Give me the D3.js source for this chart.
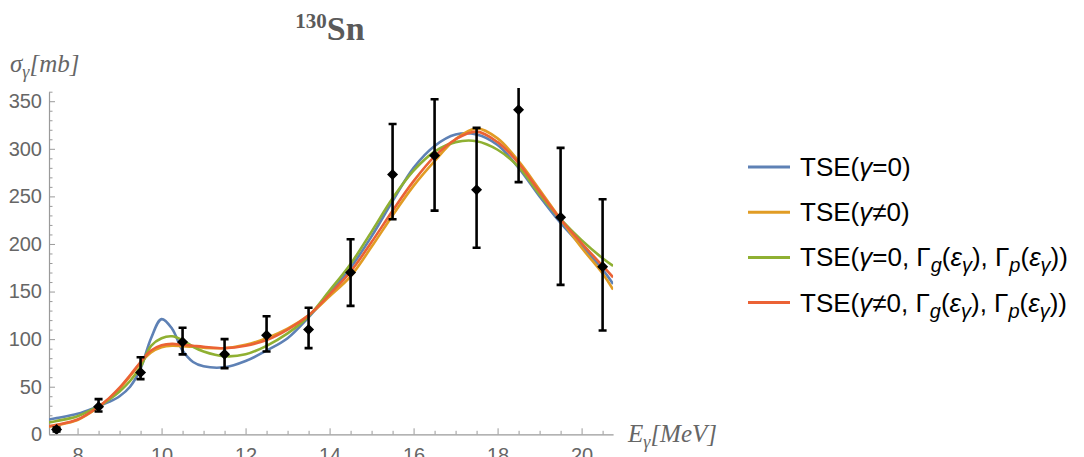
<!DOCTYPE html>
<html>
<head>
<meta charset="utf-8">
<script src="https://cdn.jsdelivr.net/npm/d3@7"></script>
<style>
  html, body { margin: 0; padding: 0; background: #fff; }
  svg { display: block; }
</style>
</head>
<body>
<svg id="chart" width="1084" height="457"></svg>
<script>
// Photon energy grid (MeV) on which the model curves are tabulated
const energyGrid = [7.32, 7.5, 8, 8.5, 8.75, 9, 9.25, 9.5, 9.75, 10, 10.25, 10.5, 10.75, 11, 11.5, 12, 12.5,
                    13, 13.5, 14, 14.5, 15, 15.5, 16, 16.5, 17, 17.5, 18, 18.5, 19, 19.5, 20, 20.5, 20.75];

// Photoabsorption cross sections (mb) for the four TSE variants
const tseGamma0 = [15.5, 17, 21.5, 29.5, 34, 40, 50, 69, 101, 121, 111, 88, 76, 71.5, 70.5, 77, 88,
                   101, 123, 148, 175, 208, 245, 280, 303, 315, 315, 304, 280, 250, 222, 198, 173, 158];
const tseGammaNe0 = [8, 9.5, 15, 28.5, 37.5, 48, 61, 75, 86, 91.5, 93, 92.5, 92, 91, 90.5, 94, 101,
                     111, 125, 145, 166, 197, 230, 261, 287, 310, 321.5, 311, 287, 257, 226, 196, 169, 152];
const tseGamma0Eps = [12.5, 14, 19, 29.5, 36.5, 45, 56, 71, 93, 101, 103, 99, 92, 87, 82, 84, 93,
                      106, 124, 151, 179, 213, 248, 277, 297, 307, 308, 299, 281, 252, 226, 204, 185, 177];
const tseGammaNe0Eps = [8.5, 10, 15.5, 29, 38, 49, 62, 76, 88, 93.5, 95, 94, 93, 92, 90.5, 93, 99,
                        110, 125, 147, 171, 202, 235, 266, 292, 310, 318, 307, 285, 255, 226, 201, 177, 165];

// Experimental points: energy, cross section, lower and upper error limits (mb)
const expEnergy = [7.5, 8.5, 9.5, 10.5, 11.5, 12.5, 13.5, 14.5, 15.5, 16.5, 17.5, 18.5, 19.5, 20.5];
const expSigma  = [5, 29, 65, 97, 84, 104, 110, 170, 273, 293, 257, 341, 228, 176];
const expLow    = [3, 24, 58, 84, 69.5, 87, 90.5, 135, 226, 235, 196, 265, 157, 109];
const expHigh   = [7, 37, 81, 112, 100, 124, 133, 205, 326, 352, 322, 417, 301, 247];

// Axis ticks
const xMajorTicks = [8, 10, 12, 14, 16, 18, 20];
const yMajorTicks = [0, 50, 100, 150, 200, 250, 300, 350];

const seriesColors = ["#5E81B5", "#E19C24", "#8FB032", "#EB6235"];

const svg = d3.select("#chart");

const x = d3.scaleLinear().domain([7.32, 20.75]).range([49, 613.1]);
const y = d3.scaleLinear().domain([0, 360]).range([434.3, 91.7]);

const axisColor = "#9a9a9a";
const labelColor = "#666";
const tickFont = "'Liberation Sans', Arial, sans-serif";
const serif = "'Liberation Serif', 'Times New Roman', serif";

// Clip regions for the plotted data
const defs = svg.append("defs");
defs.append("clipPath").attr("id", "plotClip")
  .append("rect")
  .attr("x", x(7.32) - 10).attr("y", y(364))
  .attr("width", x(20.75) - x(7.32) + 10).attr("height", y(0) - y(364));
defs.append("clipPath").attr("id", "curveClip")
  .append("rect")
  .attr("x", x(7.32)).attr("y", y(364))
  .attr("width", x(20.75) - x(7.32)).attr("height", y(0) - y(364) + 4);

// Axes (ticks pointing inward, no outer frame)
const xAxis = d3.axisTop(x)
  .tickValues(d3.range(7.5, 20.75, 0.5))
  .tickSize(0)
  .tickFormat("");
const xg = svg.append("g").attr("transform", `translate(0,${y(0)})`).call(xAxis);
xg.select(".domain").attr("stroke", axisColor).attr("stroke-width", 1.2);
xg.selectAll(".tick line")
  .attr("stroke", axisColor)
  .attr("y2", d => (xMajorTicks.includes(d) ? -6 : -3.5));

const xLabelAxis = d3.axisBottom(x).tickValues(xMajorTicks).tickSize(0).tickPadding(14);
const xl = svg.append("g").attr("transform", `translate(0,${y(0)})`).call(xLabelAxis);
xl.select(".domain").remove();
xl.selectAll(".tick text")
  .attr("fill", labelColor)
  .attr("font-family", tickFont)
  .attr("font-size", 20);

const yAxis = d3.axisRight(y)
  .tickValues(d3.range(0, 361, 10))
  .tickSize(0)
  .tickFormat("");
const yg = svg.append("g").attr("transform", `translate(${x(7.32)},0)`).call(yAxis);
yg.select(".domain").attr("stroke", axisColor).attr("stroke-width", 1.2);
yg.selectAll(".tick line")
  .attr("stroke", axisColor)
  .attr("x2", d => (d % 50 === 0 ? 6 : 3.5));

const yLabelAxis = d3.axisLeft(y).tickValues(yMajorTicks).tickSize(0).tickPadding(7);
const yl = svg.append("g").attr("transform", `translate(${x(7.32)},0)`).call(yLabelAxis);
yl.select(".domain").remove();
yl.selectAll(".tick text")
  .attr("fill", labelColor)
  .attr("font-family", tickFont)
  .attr("font-size", 20);

// Model curves
const allSeries = [tseGamma0, tseGammaNe0, tseGamma0Eps, tseGammaNe0Eps];
const line = d3.line()
  .x(d => x(d[0]))
  .y(d => y(d[1]))
  .curve(d3.curveCatmullRom.alpha(0.5));

const curveLayer = svg.append("g").attr("clip-path", "url(#curveClip)");
allSeries.forEach((vals, i) => {
  curveLayer.append("path")
    .datum(energyGrid.map((e, k) => [e, vals[k]]))
    .attr("d", line)
    .attr("fill", "none")
    .attr("stroke", seriesColors[i])
    .attr("stroke-width", 2.6)
    .attr("stroke-linejoin", "round");
});

// Experimental data with error bars
const expData = expEnergy.map((e, i) => ({ e, s: expSigma[i], lo: expLow[i], hi: expHigh[i] }));
const dataLayer = svg.append("g").attr("clip-path", "url(#plotClip)");
const capHalf = 4;
expData.forEach(d => {
  const cx = x(d.e);
  dataLayer.append("line")
    .attr("x1", cx).attr("x2", cx).attr("y1", y(d.lo)).attr("y2", y(d.hi))
    .attr("stroke", "#000").attr("stroke-width", 2.6);
  [d.lo, d.hi].forEach(v => {
    dataLayer.append("line")
      .attr("x1", cx - capHalf).attr("x2", cx + capHalf)
      .attr("y1", y(v)).attr("y2", y(v))
      .attr("stroke", "#000").attr("stroke-width", 2.6);
  });
  const cy = y(d.s), r = 5.5;
  dataLayer.append("path")
    .attr("d", `M${cx},${cy - r}L${cx + r},${cy}L${cx},${cy + r}L${cx - r},${cy}Z`)
    .attr("fill", "#000");
});

// Title
const title = svg.append("text")
  .attr("x", 330).attr("y", 40)
  .attr("text-anchor", "middle")
  .attr("font-family", serif)
  .attr("font-weight", "bold")
  .attr("fill", "#5a5a5a");
title.append("tspan").attr("font-size", 21).attr("dy", -12).text("130");
title.append("tspan").attr("font-size", 34).attr("dy", 12).text("Sn");

// Axis labels
const yLab = svg.append("text")
  .attr("x", 10).attr("y", 72)
  .attr("font-family", serif).attr("font-style", "italic")
  .attr("font-size", 25).attr("fill", "#666");
yLab.append("tspan").text("σ");
yLab.append("tspan").attr("font-size", 18).attr("dy", 6).text("γ");
yLab.append("tspan").attr("dy", -6).text("[mb]");

const xLab = svg.append("text")
  .attr("x", 628).attr("y", 442)
  .attr("font-family", serif).attr("font-style", "italic")
  .attr("font-size", 25).attr("fill", "#666");
xLab.append("tspan").text("E");
xLab.append("tspan").attr("font-size", 18).attr("dy", 6).text("γ");
xLab.append("tspan").attr("dy", -6).text("[MeV]");

// Legend
const legend = svg.append("g").attr("font-family", tickFont).attr("font-size", 26).attr("fill", "#000");
const legendRows = [
  { base: "=0", eps: false },
  { base: "≠0", eps: false },
  { base: "=0", eps: true },
  { base: "≠0", eps: true }
];
legendRows.forEach((row, i) => {
  const cy = 167 + i * 45.2;
  legend.append("line")
    .attr("x1", 748).attr("x2", 790).attr("y1", cy).attr("y2", cy)
    .attr("stroke", seriesColors[i]).attr("stroke-width", 3);
  const t = legend.append("text").attr("x", 800).attr("y", cy + 9);
  t.append("tspan").text("TSE(");
  t.append("tspan").attr("font-style", "italic").text("γ");
  t.append("tspan").text(row.base);
  if (row.eps) {
    ["g", "p"].forEach(sub => {
      t.append("tspan").text(", Γ");
      t.append("tspan").attr("font-style", "italic").attr("font-size", 20).attr("dy", 6).text(sub);
      t.append("tspan").attr("dy", -6).text("(");
      t.append("tspan").attr("font-style", "italic").text("ε");
      t.append("tspan").attr("font-style", "italic").attr("font-size", 20).attr("dy", 6).text("γ");
      t.append("tspan").attr("dy", -6).text(")");
    });
  }
  t.append("tspan").text(")");
});
</script>
</body>
</html>
